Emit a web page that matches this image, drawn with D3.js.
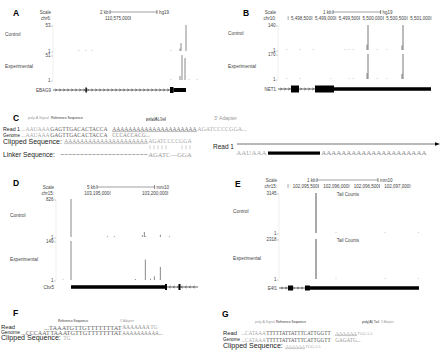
<!DOCTYPE html>
<html>
<head>
<meta charset="utf-8">
<script src="https://cdn.jsdelivr.net/npm/d3@7"></script>
<style>
  body { margin: 0; background: #fff; }
  svg { display: block; }
</style>
</head>
<body>
<svg id="fig" width="440" height="356"></svg>
<script>

// ---- panel A : EBAG9 (hg19 chr6) ----
var aDomain = [110571700, 110577960],
    aCtrl = [[110572807, 1], [110573105, 1], [110573361, 1], [110576725, 1], [110577108, 5], [110577151, 16], [110577364, 53]],
    aExp = [[110576725, 1], [110577108, 8], [110577194, 51], [110577322, 45], [110577492, 1], [110577833, 1]],
    aSpan = [110571700, 110577364],
    aExons = [[110573080, 110573140, 5], [110576683, 110576832, 6], [110576832, 110577364, 4]],
    aTicks = [110575000];

// ---- panel B : NET1 (hg19 chr10) ----
var bDomain = [5497787, 5501000],
    bCtrl = [[5497976, 1], [5498249, 1], [5498522, 1], [5499194, 1], [5499278, 1], [5499362, 1], [5499657, 30], [5499677, 140], [5499866, 1], [5500076, 1], [5500391, 25], [5500412, 140]],
    bExp = [[5497976, 1], [5498249, 1], [5498900, 1], [5499278, 1], [5499362, 1], [5499657, 40], [5499677, 170], [5499866, 1], [5500076, 1], [5500391, 35], [5500412, 170]],
    bSpan = [5497787, 5501000],
    bExons = [[5498060, 5498228, 7], [5498564, 5498963, 7], [5498963, 5501000, 3.5]],
    bTicks = [5498000, 5498500, 5499000, 5499500, 5500000, 5500500, 5501000];

// ---- panel D : Cbx5 (mm10 chr15) ----
var dDomain = [103190300, 103202800],
    dCtrl = [[103191602, 826], [103194757, 12], [103195365, 10], [103197795, 40], [103197969, 110], [103198056, 20], [103199358, 50], [103200140, 12]],
    dExp = [[103190910, 1], [103191602, 149], [103197188, 4], [103198056, 78], [103198500, 5], [103198838, 14], [103199358, 50]],
    dSpan = [103191602, 103202630],
    dExons = [[103191602, 103199848, 3.5], [103199762, 103199935, 6], [103200934, 103201108, 6]],
    dTicks = [103195000, 103200000];

// ---- panel E : E4f1 (mm10 chr15) ----
var eDomain = [102094852, 102097148],
    eCtrl = [[102095459, 3145], [102095787, 1], [102096590, 1], [102097140, 1]],
    eExp = [[102095459, 2318], [102095787, 1], [102096590, 1], [102097140, 1]],
    eSpan = [102094852, 102097148],
    eExons = [[102094999, 102095082, 5], [102095278, 102095360, 5], [102095360, 102097148, 3.5]],
    eTicks = [102095000, 102095500, 102096000, 102096500, 102097000];

// ---- sequences ----
var cSignal = "AAUAAA", cRef = "GAGTTGACACTACCA", cTail = "AAAAAAAAAAAAAAAAAAAAA",
    cAdapter = "AGATCCCCGGA", cGenomeDown = "CCCACCACG...", cLinker = "AGATC---GGA";
var fRef = "TAAATGTTGTTTTTTTAT", fReadA = "AAAAAAA", fAdapter = "TG",
    fGenomeUp = "CCCAAT", fGenomeA = "AAAAAAAAAA...";
var gSignal = "CATAAA", gRef = "TTTTTATTATTTCATTGGTT", gTail = "AAAAAA",
    gAdapter = "TGGAA", gGenomeDown = "GAGATG...";

var svg = d3.select("#fig");
svg.append("rect").attr("width", 440).attr("height", 356).attr("fill", "#fff");

var fmt = d3.format(","),
    SANS = "'Liberation Sans', Arial, sans-serif",
    SERIF = "'Liberation Serif', 'DejaVu Serif', serif";

// o.len: scale the font so the text is that wide
function txt(x, y, s, o) {
    o = o || {};
    var fs = o.fs || 4.5;
    var t = svg.append("text")
        .attr("x", x).attr("y", y).text(s)
        .attr("font-family", o.ff || SANS)
        .attr("font-size", fs)
        .attr("fill", o.c || "#444")
        .attr("dominant-baseline", "central");
    if (o.anchor) t.attr("text-anchor", o.anchor);
    if (o.w) t.attr("font-weight", o.w);
    if (o.len) {
        var w = t.node().getComputedTextLength();
        if (w > 0) t.attr("font-size", fs * o.len / w);
    }
    return t;
}

// a row: sans label, then serif sequence pieces fitted between x0 and x1
function seqRow(y, label, labelLen, pieces) {
    if (label) txt(label[0], y, label[1], { fs: 6.5, c: "#222", len: labelLen });
    pieces.forEach(function (p) {
        txt(p[0] + 0.2, y, p[2], { ff: SERIF, fs: 6, c: p[3], len: p[1] - p[0] - 0.5 });
        if (p[4]) {
            svg.append("line").attr("x1", p[0]).attr("x2", p[1]).attr("y1", y + 2.6).attr("y2", y + 2.6)
                .attr("stroke", p[3]).attr("stroke-width", 0.5);
        }
    });
}

function trackPanel(p) {
    var x = d3.scaleLinear().domain(p.domain).range(p.range),
        x0 = p.range[0];

    txt(p.letter[0], p.letter[1], p.name, { fs: 8.5, w: "bold", c: "#000" });
    txt(x0 - 2, p.scaleY, "Scale", { anchor: "end" });
    txt(x0 - 2, p.scaleY + 6, p.chrom, { anchor: "end" });

    // scale bar
    var bl = x(p.domain[0] + p.barBp) - x(p.domain[0]),
        b0 = p.barStart, b1 = b0 + bl;
    svg.append("line").attr("x1", b0).attr("x2", b1).attr("y1", p.scaleY).attr("y2", p.scaleY)
        .attr("stroke", "#888").attr("stroke-width", 0.8);
    [b0, b1].forEach(function (bx) {
        svg.append("line").attr("x1", bx).attr("x2", bx).attr("y1", p.scaleY - 2).attr("y2", p.scaleY + 2)
            .attr("stroke", "#333").attr("stroke-width", 0.6);
    });
    txt(b0 - 1.5, p.scaleY, p.barLabel, { anchor: "end" });
    txt(b1 + 2, p.scaleY, p.build);

    // coordinate ticks
    p.ticks.forEach(function (t, i) {
        var tx = x(t), cy = p.scaleY + 6;
        svg.append("line").attr("x1", tx).attr("x2", tx).attr("y1", cy - 2).attr("y2", cy + 2)
            .attr("stroke", "#555").attr("stroke-width", 0.5);
        if (!(p.lead && i === 0)) txt(tx - 0.8, cy, fmt(t), { anchor: "end" });
    });

    // faint axis
    svg.append("line").attr("x1", x0).attr("x2", x0)
        .attr("y1", p.rows[0].top).attr("y2", p.rows[p.rows.length - 1].bottom)
        .attr("stroke", "#e4e4e4").attr("stroke-width", 0.6);

    p.rows.forEach(function (r) {
        var y = d3.scaleLinear().domain([0, r.max]).range([r.bottom, r.top]);
        txt(x0 - 2.5, r.top, r.max, { anchor: "end" });
        txt(x0 - 2.5, r.bottom, "1", { anchor: "end" });
        [r.top, r.bottom].forEach(function (ty) {
            svg.append("line").attr("x1", x0 - 2).attr("x2", x0).attr("y1", ty + 1).attr("y2", ty + 1)
                .attr("stroke", "#888").attr("stroke-width", 0.4);
        });
        txt(r.lx, r.ly, r.label, { fs: 4.8 });
        if (p.tail) txt((p.range[0] + p.range[1]) / 2 - 1, r.top + 1, "Tail Counts", { anchor: "middle" });
        svg.selectAll(null).data(r.data).enter().append("rect")
            .attr("x", function (d) { return x(d[0]) - 0.5; })
            .attr("width", 1)
            .attr("y", function (d) { return Math.min(y(d[1]), r.bottom - 0.8); })
            .attr("height", function (d) { return Math.max(r.bottom - y(d[1]), 0.8); })
            .attr("fill", function (d) { return d[1] > 2 ? p.barColor : "#bbb"; });
    });

    // gene model
    var gy = p.geneY;
    txt(x0 - 2, gy, p.gene, { anchor: "end", fs: 4.5 });
    svg.append("line").attr("x1", x(p.span[0])).attr("x2", x(p.span[1])).attr("y1", gy).attr("y2", gy)
        .attr("stroke", "#000").attr("stroke-width", 0.6);
    var dir = p.strand === "+" ? 1 : -1;
    for (var cx = x(p.span[0]) + 3; cx < x(p.span[1]) - 2; cx += 4) {
        svg.append("path")
            .attr("d", "M" + (cx - 0.8 * dir) + "," + (gy - 1.2) + "L" + (cx + 0.8 * dir) + "," + gy + "L" + (cx - 0.8 * dir) + "," + (gy + 1.2))
            .attr("fill", "none").attr("stroke", "#000").attr("stroke-width", 0.4);
    }
    svg.selectAll(null).data(p.exons).enter().append("rect")
        .attr("x", function (d) { return x(d[0]); })
        .attr("width", function (d) { return Math.max(x(d[1]) - x(d[0]), 1.2); })
        .attr("y", function (d) { return gy - d[2] / 2; })
        .attr("height", function (d) { return d[2]; })
        .attr("fill", "#000");
}

trackPanel({
    name: "A", letter: [13, 13], domain: aDomain, range: [53, 200], chrom: "chr6:",
    scaleY: 12, barBp: 2000, barStart: 110, barLabel: "2 kb", build: "hg19",
    ticks: aTicks, lead: false, barColor: "#8a8a8a",
    rows: [
        { label: "Control", lx: 5, ly: 34, top: 25, bottom: 51, max: 53, data: aCtrl },
        { label: "Experimental", lx: 5, ly: 66, top: 55, bottom: 80, max: 51, data: aExp }
    ],
    gene: "EBAG9", geneY: 90, span: aSpan, exons: aExons, strand: "+"
});

trackPanel({
    name: "B", letter: [243, 13], domain: bDomain, range: [278, 431], chrom: "chr10:",
    scaleY: 12, barBp: 1000, barStart: 333, barLabel: "1 kb", build: "hg19",
    ticks: bTicks, lead: true, barColor: "#7a7a7a",
    rows: [
        { label: "Control", lx: 228, ly: 33, top: 25, bottom: 50, max: 140, data: bCtrl },
        { label: "Experimental", lx: 228, ly: 66, top: 54, bottom: 79, max: 170, data: bExp }
    ],
    gene: "NET1", geneY: 89, span: bSpan, exons: bExons, strand: "+"
});

trackPanel({
    name: "D", letter: [13, 183], domain: dDomain, range: [56, 200], chrom: "chr15:",
    scaleY: 187, barBp: 5000, barStart: 97, barLabel: "5 kb", build: "mm10",
    ticks: dTicks, lead: false, barColor: "#8a8a8a",
    rows: [
        { label: "Control", lx: 10, ly: 215, top: 199, bottom: 237, max: 826, data: dCtrl },
        { label: "Experimental", lx: 10, ly: 259, top: 241, bottom: 280, max: 149, data: dExp }
    ],
    gene: "Cbx5", geneY: 287, span: dSpan, exons: dExons, strand: "-"
});

trackPanel({
    name: "E", letter: [235, 184], domain: eDomain, range: [279, 419], chrom: "chr15:",
    scaleY: 180, barBp: 1000, barStart: 317, barLabel: "1 kb", build: "mm10",
    ticks: eTicks, lead: true, barColor: "#555", tail: true,
    rows: [
        { label: "Control", lx: 233, ly: 211, top: 193, bottom: 233, max: 3145, data: eCtrl },
        { label: "Experimental", lx: 233, ly: 258, top: 239, bottom: 279, max: 2318, data: eExp }
    ],
    gene: "E4f1", geneY: 288, span: eSpan, exons: eExons, strand: "+"
});

// ---- panel C ----
var small = { fs: 4, c: "#999" }, smallD = { fs: 4, c: "#333" };
txt(13, 118, "C", { fs: 8.5, w: "bold", c: "#000" });
txt(28, 118, "poly-A Signal", Object.assign({ len: 21 }, small));
txt(51, 118, "Reference Sequence", Object.assign({ len: 32 }, smallD));
txt(146, 118, "poly(A) Tail", Object.assign({ len: 20 }, smallD));
svg.append("line").attr("x1", 146).attr("x2", 166).attr("y1", 120.3).attr("y2", 120.3).attr("stroke", "#333").attr("stroke-width", 0.4);
txt(214, 118, "3' Adapter", Object.assign({ len: 23 }, small));

seqRow(129, [3, "Read 1"], 17, [
    [21, 50, "..." + cSignal, "#aaa"], [50, 108, cRef, "#666"],
    [112, 197, cTail, "#777", true], [197, 247, cAdapter + "...", "#aaa"]
]);
seqRow(135, [3, "Genome"], 17, [
    [21, 50, "..." + cSignal, "#aaa"], [50, 108, cRef, "#666"],
    [112, 150, cGenomeDown, "#888"]
]);
seqRow(141, [3, "Clipped Sequence:"], 59, [
    [64, 148, cTail, "#999", true], [148, 192, cAdapter, "#aaa"]
]);

// alignment pipes between clipped adapter and linker
var cw = (192 - 148) / cAdapter.length;
cAdapter.split("").forEach(function (ch, i) {
    if (ch === cLinker[i]) {
        var px = 148 + (i + 0.5) * cw;
        svg.append("line").attr("x1", px).attr("x2", px).attr("y1", 145.3).attr("y2", 149.3)
            .attr("stroke", "#999").attr("stroke-width", 0.5);
    }
});

seqRow(154, [3, "Linker Sequence:"], 52, [
    [60, 148, "-".repeat(22), "#aaa"], [148, 192, cLinker, "#999"]
]);

// read diagram on the right
txt(213, 146, "Read 1", { fs: 7.5, c: "#222", len: 21 });
svg.append("line").attr("x1", 237).attr("x2", 436).attr("y1", 144).attr("y2", 144)
    .attr("stroke", "#333").attr("stroke-width", 0.7);
svg.append("path").attr("d", "M435,142.2L440,144L435,145.8Z").attr("fill", "#000");
seqRow(153, null, 0, [[236, 267, cSignal, "#aaa"]]);
svg.append("rect").attr("x", 268).attr("y", 151.5).attr("width", 52).attr("height", 3.2).attr("fill", "#000");
seqRow(153, null, 0, [[321, 427, cTail, "#888"]]);

// ---- panel F ----
txt(13, 313, "F", { fs: 8.5, w: "bold", c: "#000" });
txt(58, 321, "Reference Sequence", Object.assign({ len: 30 }, smallD));
txt(120, 321, "3' Adapter", Object.assign({ len: 14 }, small));
seqRow(327, [1, "Read"], 14, [
    [44, 122, "..." + fRef, "#666"], [122, 150, fReadA, "#888"], [150, 158, fAdapter, "#aaa"]
]);
seqRow(332.5, [1, "Genome"], 19, [
    [21, 50, "..." + fGenomeUp, "#666"], [50, 122, fRef, "#666"], [122, 163, fGenomeA, "#888"]
]);
seqRow(338, [1, "Clipped Sequence:"], 60, [[63, 71, fAdapter, "#aaa"]]);

// ---- panel G ----
txt(222, 314, "G", { fs: 8.5, w: "bold", c: "#000" });
txt(255, 322, "poly-A Signal", Object.assign({ len: 20 }, small));
txt(276, 322, "Reference Sequence", Object.assign({ len: 30 }, smallD));
txt(362, 322, "poly(A) Tail", Object.assign({ len: 17 }, smallD));
txt(381, 322, "3' Adapter", Object.assign({ len: 13 }, small));
seqRow(333, [223, "Read"], 14, [
    [241, 266, "..." + gSignal, "#aaa"], [266, 331, gRef, "#555"],
    [335, 357, gTail, "#888", true], [357, 373, gAdapter, "#aaa"]
]);
seqRow(339.5, [223, "Genome"], 17, [
    [241, 266, "..." + gSignal, "#aaa"], [266, 331, gRef, "#555"],
    [335, 361, gGenomeDown, "#999"]
]);
seqRow(346, [223, "Clipped Sequence:"], 60, [
    [285, 305, gTail, "#999", true], [305, 321, gAdapter, "#aaa"]
]);

</script>
</body>
</html>
